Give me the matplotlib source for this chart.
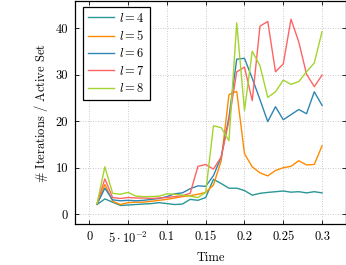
import matplotlib
matplotlib.use("Agg")
import matplotlib.pyplot as plt
import numpy as np

time = [0.01, 0.02, 0.03, 0.04, 0.05, 0.06, 0.07, 0.08, 0.09, 0.10,
        0.11, 0.12, 0.13, 0.14, 0.15, 0.16, 0.17, 0.18, 0.19, 0.20,
        0.21, 0.22, 0.23, 0.24, 0.25, 0.26, 0.27, 0.28, 0.29, 0.30]

l4 = [2.1, 3.3, 2.6, 1.9, 2.0, 2.1, 2.2, 2.3, 2.5, 2.3,
      2.1, 2.2, 3.2, 3.0, 3.6, 7.5, 6.6, 5.6, 5.6, 5.1,
      4.1, 4.5, 4.7, 4.85, 5.0, 4.75, 4.85, 4.6, 4.85, 4.6]
l5 = [2.2, 6.4, 2.8, 2.1, 2.5, 2.6, 2.6, 2.8, 3.0, 3.2,
      3.5, 3.8, 4.0, 4.3, 4.7, 6.3, 11.5, 25.7, 26.4, 13.0,
      10.2, 8.9, 8.25, 9.4, 10.0, 10.3, 11.5, 10.6, 10.7, 14.7]
l6 = [2.2, 5.6, 3.1, 2.9, 3.0, 2.9, 3.0, 3.2, 3.4, 3.8,
      4.4, 4.6, 5.5, 6.1, 6.0, 8.3, 12.3, 20.9, 33.3, 33.5,
      29.2, 24.6, 19.9, 23.1, 20.3, 21.4, 22.5, 21.6, 26.3, 23.4]
l7 = [2.3, 7.6, 3.6, 3.4, 3.6, 3.5, 3.5, 3.4, 3.5, 3.6,
      3.8, 4.0, 4.5, 10.3, 10.7, 9.7, 12.3, 20.1, 30.6, 31.6,
      24.4, 40.4, 41.4, 30.6, 32.3, 41.9, 37.0, 30.1, 27.4, 29.9]
l8 = [2.3, 10.2, 4.5, 4.3, 4.7, 3.9, 3.8, 3.8, 3.9, 4.4,
      4.3, 4.1, 3.9, 3.6, 4.7, 19.0, 18.6, 15.8, 41.1, 22.3,
      35.0, 31.9, 25.1, 26.3, 28.8, 27.9, 28.5, 30.6, 32.5, 39.2]

series = [l4, l5, l6, l7, l8]
labels = [r"$l = 4$", r"$l = 5$", r"$l = 6$", r"$l = 7$", r"$l = 8$"]
colors = ["#2a9696", "#ff8a00", "#2f86b3", "#ff6464", "#a3d42f"]

xticks = [0, 0.05, 0.1, 0.15, 0.2, 0.25, 0.3]
xticklabels = ["0", r"$5\cdot10^{-2}$", "0.1", "0.15", "0.2", "0.25", "0.3"]
yticks = [0, 10, 20, 30, 40]

plt.rcParams["font.family"] = "serif"
plt.rcParams["font.serif"] = ["cmr10"]
plt.rcParams["mathtext.fontset"] = "cm"
plt.rcParams["axes.unicode_minus"] = False

fig = plt.figure(figsize=(3.46, 2.65), dpi=100)
ax = fig.add_axes([75/346, 1-224.3/265, 270.7/346, 223.3/265])

for ys, lab, c in zip(series, labels, colors):
    ax.plot(time, ys, color=c, lw=1.0, label=lab)

ax.set_xlim(-0.0185, 0.3305)
ax.set_ylim(-2.15, 45.8)
ax.set_xticks(xticks)
ax.set_xticklabels(xticklabels)
ax.set_yticks(yticks)
ax.grid(True, color="#b8b8b8", linestyle=(0, (1, 2)), linewidth=0.6)
ax.tick_params(direction="in", length=3, width=0.6, labelsize=9,
               top=True, right=True, pad=5)
for s in ax.spines.values():
    s.set_linewidth(0.9)
    s.set_color("black")

ax.set_xlabel("Time", fontsize=9, labelpad=4)
ax.set_ylabel(r"$\#$ Iterations / Active Set", fontsize=9, labelpad=4)

leg = ax.legend(loc="upper left", bbox_to_anchor=(0.028, 0.975), fontsize=9,
                fancybox=False, framealpha=1, edgecolor="black",
                handlelength=2.1, handletextpad=0.4, borderpad=0.4,
                labelspacing=0.35, borderaxespad=0)
leg.get_frame().set_linewidth(0.9)

fig.savefig("out.png", dpi=100)
